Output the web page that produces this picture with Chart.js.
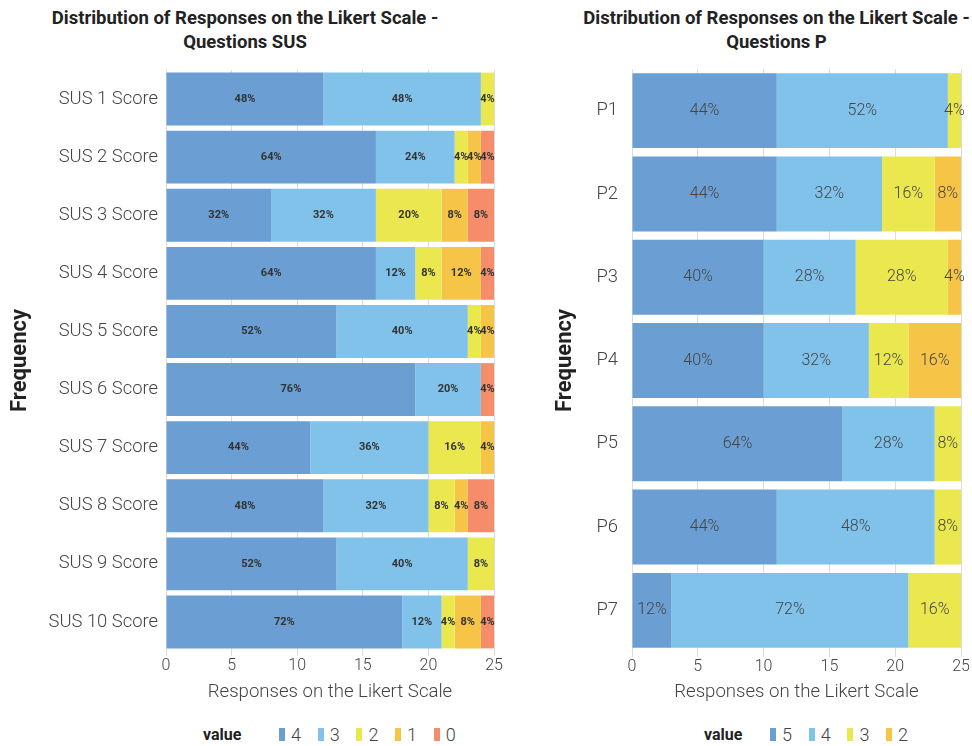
<!DOCTYPE html>
<html>
<head>
<meta charset="utf-8">
<script src="https://cdn.jsdelivr.net/npm/chart.js@4.4.1/dist/chart.umd.min.js"></script>
<style>
  html, body { margin: 0; padding: 0; background: #fff; width: 972px; height: 746px; overflow: hidden; font-family: Roboto, sans-serif; }
  .title { position: absolute; top: 6px; text-align: center; font-weight: 700; font-size: 18.5px; line-height: 24px; color: #222; }
  canvas { position: absolute; top: 0; }
  .legend { position: absolute; top: 724px; height: 20px; display: flex; align-items: center; }
  .legend .name { font-weight: 700; font-size: 16px; color: #222; }
  .legend .item { display: flex; align-items: center; width: 38.7px; font-weight: 300; font-size: 18px; color: #444; }
  .legend .box { width: 6px; height: 13px; margin-right: 6px; }
</style>
</head>
<body>
<div class="title" style="left:0;width:490px">Distribution of Responses on the Likert Scale -<br>Questions SUS</div>
<div class="title" style="left:574px;width:405px">Distribution of Responses on the Likert Scale -<br>Questions P</div>
<canvas id="susChart" width="510" height="712" style="left:0"></canvas>
<canvas id="pChart" width="432" height="712" style="left:540px"></canvas>
<div class="legend" id="susLegend" style="left:203px"></div>
<div class="legend" id="pLegend" style="left:704px"></div>

<script>
// SUS questions: number of respondents (of 25) giving each Likert value
const susCategories = ['SUS 1 Score', 'SUS 2 Score', 'SUS 3 Score', 'SUS 4 Score', 'SUS 5 Score',
                       'SUS 6 Score', 'SUS 7 Score', 'SUS 8 Score', 'SUS 9 Score', 'SUS 10 Score'];
const susValueNames = ['4', '3', '2', '1', '0'];
const sus4 = [12, 16, 8, 16, 13, 19, 11, 12, 13, 18];
const sus3 = [12, 6, 8, 3, 10, 5, 9, 8, 10, 3];
const sus2 = [1, 1, 5, 2, 1, 0, 4, 2, 2, 1];
const sus1 = [0, 1, 2, 3, 1, 0, 1, 1, 0, 2];
const sus0 = [0, 1, 2, 1, 0, 1, 0, 2, 0, 1];

// P questions
const pCategories = ['P1', 'P2', 'P3', 'P4', 'P5', 'P6', 'P7'];
const pValueNames = ['5', '4', '3', '2'];
const p5 = [11, 11, 10, 10, 16, 11, 3];
const p4 = [13, 8, 7, 8, 7, 12, 18];
const p3 = [1, 4, 7, 3, 2, 2, 4];
const p2 = [0, 2, 1, 4, 0, 0, 0];

const xTicksMax = 25;
const xTickStep = 5;

const palette = ['#6b9ed3', '#81c2eb', '#ebe84f', '#f6c548', '#f68d6a'];

// Writes the share of each segment (percent of its row) in the middle of the segment
const segmentLabels = {
  id: 'segmentLabels',
  afterDatasetsDraw(chart, args, opts) {
    const ctx = chart.ctx;
    ctx.save();
    ctx.font = opts.font;
    ctx.fillStyle = opts.color;
    ctx.textAlign = 'center';
    ctx.textBaseline = 'middle';
    const sets = chart.data.datasets;
    sets.forEach((ds, di) => {
      const meta = chart.getDatasetMeta(di);
      meta.data.forEach((bar, i) => {
        const v = ds.data[i];
        if (!v) return;
        const total = sets.reduce((s, d) => s + d.data[i], 0);
        const pct = Math.round(v / total * 100);
        const p = bar.getProps(['x', 'y', 'base'], true);
        ctx.fillText(pct + '%', (p.x + p.base) / 2, p.y);
      });
    });
    ctx.restore();
  }
};

function buildChart(canvasId, categories, names, series, cfg) {
  const datasets = series.map((vals, i) => ({
    label: names[i],
    data: vals,
    backgroundColor: palette[i],
    borderWidth: 0,
    categoryPercentage: cfg.catPct,
    barPercentage: 1
  }));
  return new Chart(document.getElementById(canvasId), {
    type: 'bar',
    data: { labels: categories, datasets },
    plugins: [segmentLabels],
    options: {
      indexAxis: 'y',
      responsive: false,
      animation: false,
      devicePixelRatio: 1,
      layout: { padding: { top: cfg.padTop, right: cfg.padRight, left: 0, bottom: 0 } },
      plugins: {
        legend: { display: false },
        tooltip: { enabled: false },
        segmentLabels: { font: cfg.labelFont, color: cfg.labelColor }
      },
      scales: {
        x: {
          stacked: true,
          min: 0,
          max: xTicksMax,
          ticks: { stepSize: xTickStep, color: '#444', padding: 0,
                   font: { family: 'Roboto', size: 16, weight: 300 } },
          grid: { color: '#dcdcdc', tickLength: 5 },
          border: { display: false },
          title: { display: true, text: 'Responses on the Likert Scale', color: '#444',
                   font: { family: 'Roboto', size: 18.6, weight: 300 },
                   padding: { top: 0, bottom: 8 } },
          afterFit(s) { s.height = cfg.xHeight; }
        },
        y: {
          stacked: true,
          grid: { display: false, drawTicks: false },
          border: { display: true, color: '#dcdcdc' },
          ticks: { color: '#444', padding: cfg.yTickPad,
                   font: { family: 'Roboto', size: 18.4, weight: 300 } },
          title: { display: true, text: 'Frequency', color: '#222',
                   font: { family: 'Roboto', size: 22, weight: 'bold' },
                   padding: { top: cfg.yTitlePad, bottom: 0 } },
          afterFit(s) { s.width = cfg.yWidth; }
        }
      }
    }
  });
}

buildChart('susChart', susCategories, susValueNames, [sus4, sus3, sus2, sus1, sus0], {
  catPct: 0.91, padTop: 70, padRight: 16, xHeight: 61, yWidth: 166, yTickPad: 8, yTitlePad: 7,
  labelFont: 'bold 11px Roboto', labelColor: '#333'
});

buildChart('pChart', pCategories, pValueNames, [p5, p4, p3, p2], {
  catPct: 0.9, padTop: 69, padRight: 11, xHeight: 60, yWidth: 92, yTickPad: 14, yTitlePad: 12,
  labelFont: '300 16px Roboto', labelColor: '#444'
});

function buildLegend(elId, names, nameWidth) {
  const el = document.getElementById(elId);
  const head = document.createElement('span');
  head.className = 'name';
  head.style.width = nameWidth + 'px';
  head.textContent = 'value';
  el.appendChild(head);
  names.forEach((n, i) => {
    const item = document.createElement('span');
    item.className = 'item';
    const box = document.createElement('span');
    box.className = 'box';
    box.style.background = palette[i];
    item.appendChild(box);
    item.appendChild(document.createTextNode(n));
    el.appendChild(item);
  });
}
buildLegend('susLegend', susValueNames, 76);
buildLegend('pLegend', pValueNames, 66);
</script>
</body>
</html>
